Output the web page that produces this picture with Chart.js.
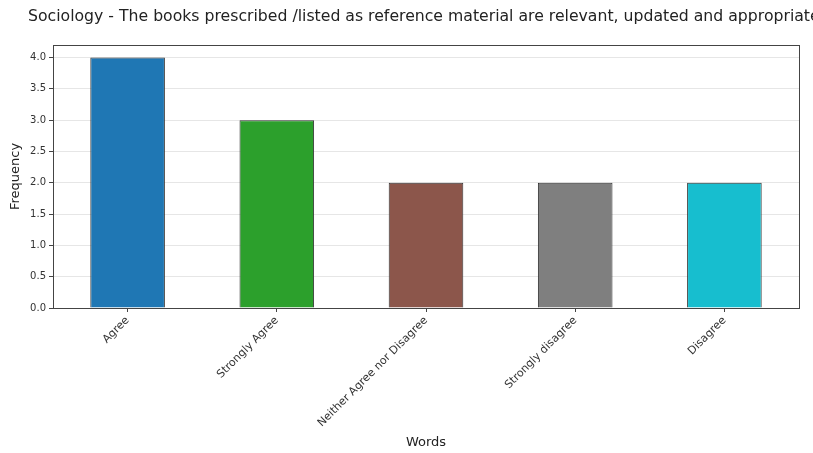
<!DOCTYPE html>
<html>
<head>
<meta charset="utf-8">
<script src="https://cdn.jsdelivr.net/npm/chart.js@4.4.1/dist/chart.umd.min.js"></script>
<style>
  html, body { margin: 0; padding: 0; background: #fff; }
  #wrap { width: 813px; height: 453px; position: relative; }
</style>
</head>
<body>
<div id="wrap"><canvas id="c" width="813" height="453"></canvas></div>
<script>
const chartTitle = "Sociology - The books prescribed /listed as reference material are relevant, updated and appropriate";
const categories = ["Agree", "Strongly Agree", "Neither Agree nor Disagree", "Strongly disagree", "Disagree"];
const frequencies = [4, 3, 2, 2, 2];
const barColors = ["#1f77b4", "#2ca02c", "#8c564b", "#7f7f7f", "#17becf"];
const yTicks = [0, 0.5, 1, 1.5, 2, 2.5, 3, 3.5, 4];
const xAxisLabel = "Words";
const yAxisLabel = "Frequency";

const FONT = "'DejaVu Sans', sans-serif";

const frameAndTitle = {
  id: 'frameAndTitle',
  afterDraw(chart) {
    const { ctx, chartArea } = chart;
    ctx.save();
    ctx.strokeStyle = '#444';
    ctx.lineWidth = 1;
    ctx.strokeRect(Math.round(chartArea.left) + 0.5, Math.round(chartArea.top) + 0.5,
      Math.round(chartArea.right - chartArea.left), Math.round(chartArea.bottom - chartArea.top));
    ctx.fillStyle = '#222';
    ctx.font = "15.7px " + FONT;
    ctx.textAlign = 'left';
    ctx.textBaseline = 'middle';
    ctx.fillText(chartTitle, 28, 17);
    ctx.restore();
  }
};

new Chart(document.getElementById('c'), {
  type: 'bar',
  data: {
    labels: categories,
    datasets: [{
      data: frequencies,
      backgroundColor: barColors,
      borderColor: '#333',
      borderWidth: 1,
      barPercentage: 0.5,
      categoryPercentage: 1.0
    }]
  },
  options: {
    responsive: false,
    animation: false,
    devicePixelRatio: 1,
    layout: { padding: { top: 45, right: 14, left: 0, bottom: 0 } },
    plugins: { legend: { display: false }, title: { display: false }, tooltip: { enabled: false } },
    scales: {
      x: {
        offset: true,
        grid: { display: true, drawOnChartArea: false, offset: false, tickColor: '#444', tickLength: 4 },
        border: { display: false },
        ticks: { minRotation: 45, maxRotation: 45, autoSkip: false, color: '#333', font: { family: FONT, size: 11 }, padding: 2 },
        title: { display: true, text: xAxisLabel, color: '#222', font: { family: FONT, size: 13 }, padding: { top: 0, bottom: 3 } },
        afterFit(scale) { scale.height = 145; }
      },
      y: {
        min: 0,
        max: 4.2,
        afterBuildTicks(scale) { scale.ticks = yTicks.map(v => ({ value: v })); },
        grid: { color: '#e6e6e6', tickColor: '#444', tickLength: 4 },
        border: { display: false },
        ticks: { color: '#333', font: { family: FONT, size: 10 }, padding: 3, callback: v => Number(v).toFixed(1) },
        title: { display: true, text: yAxisLabel, color: '#222', font: { family: FONT, size: 13 }, padding: { top: 8, bottom: 2 } },
        afterFit(scale) { scale.width = 53; }
      }
    }
  },
  plugins: [frameAndTitle]
});
</script>
</body>
</html>
